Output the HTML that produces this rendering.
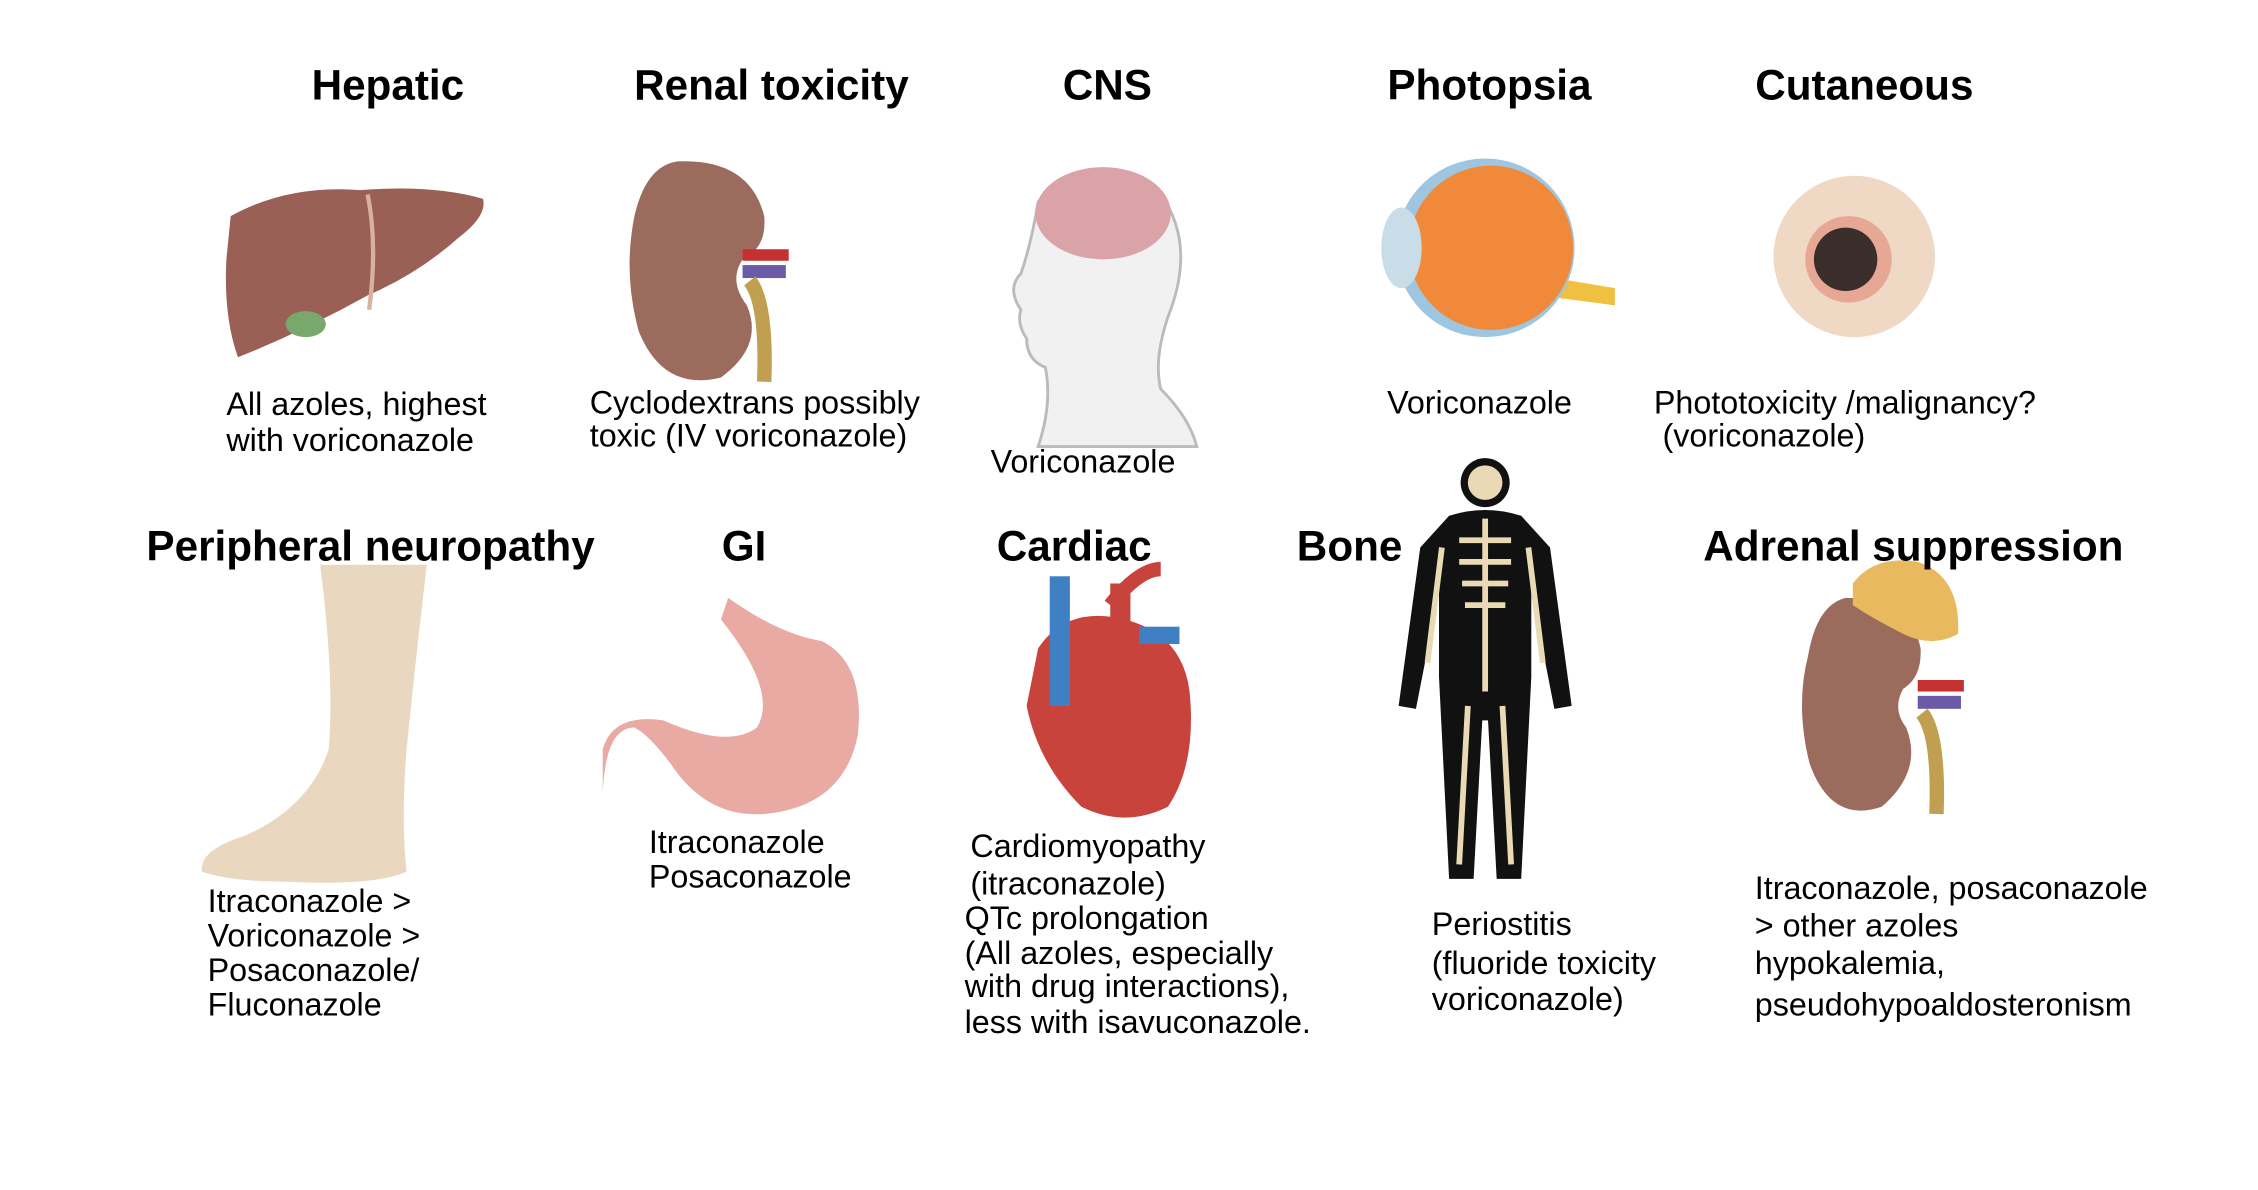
<!DOCTYPE html>
<html><head><meta charset="utf-8"><style>
html,body{margin:0;padding:0;background:#fff;}
svg{display:block}
.t{font-family:"Liberation Sans",Arial,sans-serif;font-weight:bold;font-size:29.3px;fill:#000;text-anchor:middle}
.b{font-family:"Liberation Sans",Arial,sans-serif;font-size:22.4px;fill:#000}
</style></head><body>
<svg width="2258" height="1190" viewBox="0 0 1566 826" preserveAspectRatio="none" xmlns="http://www.w3.org/2000/svg">
<rect width="1566" height="826" fill="#fff"/>
<text class="t" x="269" y="69">Hepatic</text>
<text class="t" x="535" y="69">Renal toxicity</text>
<text class="t" x="768" y="69">CNS</text>
<text class="t" x="1033" y="69">Photopsia</text>
<text class="t" x="1293" y="69">Cutaneous</text>

<path d="M160 150 Q200 128 250 132 Q300 128 335 138 Q338 150 318 165 Q290 190 255 205 Q210 230 165 248 Q155 220 157 180 Z" fill="#9a5f55"/>
<path d="M255 135 Q262 170 256 215" stroke="#d8b2a0" stroke-width="3" fill="none"/>
<ellipse cx="212" cy="225" rx="14" ry="9" fill="#79a86c"/>
<path d="M470 112 Q520 110 530 150 Q532 172 515 180 Q505 195 518 212 Q530 240 500 262 Q460 272 443 230 Q432 190 440 150 Q448 115 470 112 Z" fill="#9b6b5e"/>
<rect x="515" y="173" width="32" height="8" fill="#c53030"/>
<rect x="515" y="184" width="30" height="9" fill="#6a5aa8"/>
<path d="M520 195 Q532 210 530 265" stroke="#c0a050" stroke-width="10" fill="none"/>
<path d="M720 140 Q760 110 805 135 Q830 170 810 220 Q800 250 805 270 Q825 290 830 310 L720 310 Q730 280 725 255 Q712 250 712 235 Q705 225 708 215 Q698 200 708 190 Q715 170 720 140 Z" fill="#f1f1f1" stroke="#bbb" stroke-width="2"/>
<ellipse cx="765" cy="148" rx="47" ry="32" fill="#d9a3a8"/>
<path d="M1060 190 L1120 200 L1120 212 L1060 204 Z" fill="#f0c040"/>
<circle cx="1030" cy="172" r="62" fill="#9ec6e0"/>
<circle cx="1034" cy="172" r="57" fill="#f08a3a"/>
<ellipse cx="972" cy="172" rx="14" ry="28" fill="#c8dde8"/>
<circle cx="1286" cy="178" r="56" fill="#efd9c4"/>
<circle cx="1282" cy="180" r="30" fill="#e6a795"/>
<circle cx="1280" cy="180" r="22" fill="#3a2e2a"/>

<text class="b" x="157" y="288">All azoles, highest</text>
<text class="b" x="157" y="313">with voriconazole</text>
<text class="b" x="409" y="287">Cyclodextrans possibly</text>
<text class="b" x="409" y="310">toxic (IV voriconazole)</text>
<text class="b" x="687" y="328">Voriconazole</text>
<text class="b" x="962" y="287">Voriconazole</text>
<text class="b" x="1147" y="287">Phototoxicity /malignancy?</text>
<text class="b" x="1153" y="310">(voriconazole)</text>

<path d="M222 392 L296 392 Q288 460 282 520 Q278 570 282 605 Q260 615 200 612 Q160 612 140 605 Q138 590 170 580 Q215 560 228 520 Q232 470 222 392 Z" fill="#ead7bf"/>
<path d="M505 415 Q540 440 570 445 Q600 460 595 510 Q585 560 530 565 Q490 568 465 530 Q450 510 440 505 Q420 505 418 550 L418 520 Q425 495 460 500 Q505 520 525 505 Q540 480 500 430 Z" fill="#e8aaa3"/>
<path d="M720 450 Q740 420 780 430 Q820 440 825 480 Q830 530 810 560 Q780 575 750 560 Q720 530 712 490 Z" fill="#c9433d"/>
<rect x="728" y="400" width="14" height="90" fill="#3f7fc4"/>
<path d="M770 420 Q790 395 805 395" stroke="#c9433d" stroke-width="10" fill="none"/>
<rect x="790" y="435" width="28" height="12" fill="#3f7fc4"/>
<rect x="770" y="405" width="14" height="35" fill="#c9433d"/>
<g fill="#111">
<circle cx="1030" cy="335" r="17"/>
<path d="M1005 358 Q1030 350 1055 358 L1075 380 L1090 490 L1078 492 L1062 410 L1062 470 L1055 610 L1038 610 L1032 500 L1028 500 L1022 610 L1005 610 L998 470 L998 410 L982 492 L970 490 L985 380 Z"/>
</g>
<g stroke="#ead9b5" stroke-width="4" fill="none">
<path d="M1030 360 L1030 480"/><path d="M1012 375 L1048 375 M1012 390 L1048 390 M1014 405 L1046 405 M1016 420 L1044 420"/>
<path d="M1018 490 L1012 600 M1042 490 L1048 600"/>
<path d="M1000 380 L990 460 M1060 380 L1070 460"/>
</g>
<circle cx="1030" cy="335" r="12" fill="#ead9b5"/>
<path d="M1280 415 Q1325 415 1332 450 Q1333 470 1320 478 Q1312 492 1322 505 Q1334 535 1305 560 Q1270 572 1255 530 Q1245 490 1254 455 Q1260 420 1280 415 Z" fill="#9b6b5e"/>
<path d="M1285 405 Q1300 385 1330 390 Q1360 400 1358 440 Q1340 450 1320 440 Q1300 430 1285 420 Z" fill="#e9b95f"/>
<rect x="1330" y="472" width="32" height="8" fill="#c53030"/>
<rect x="1330" y="483" width="30" height="9" fill="#6a5aa8"/>
<path d="M1333 495 Q1345 510 1343 565" stroke="#c0a050" stroke-width="10" fill="none"/>

<text class="t" x="257" y="389">Peripheral neuropathy</text>
<text class="t" x="516" y="389">GI</text>
<text class="t" x="745" y="389">Cardiac</text>
<text class="t" x="936" y="389">Bone</text>
<text class="t" x="1327" y="389">Adrenal suppression</text>

<text class="b" x="144" y="633">Itraconazole &gt;</text>
<text class="b" x="144" y="657">Voriconazole &gt;</text>
<text class="b" x="144" y="681">Posaconazole/</text>
<text class="b" x="144" y="705">Fluconazole</text>
<text class="b" x="450" y="592">Itraconazole</text>
<text class="b" x="450" y="616">Posaconazole</text>
<text class="b" x="673" y="595">Cardiomyopathy</text>
<text class="b" x="673" y="621">(itraconazole)</text>
<text class="b" x="669" y="645">QTc prolongation</text>
<text class="b" x="669" y="669">(All azoles, especially</text>
<text class="b" x="669" y="692">with drug interactions),</text>
<text class="b" x="669" y="717">less with isavuconazole.</text>
<text class="b" x="993" y="649">Periostitis</text>
<text class="b" x="993" y="676">(fluoride toxicity</text>
<text class="b" x="993" y="701">voriconazole)</text>
<text class="b" x="1217" y="624">Itraconazole, posaconazole</text>
<text class="b" x="1217" y="650">&gt; other azoles</text>
<text class="b" x="1217" y="676">hypokalemia,</text>
<text class="b" x="1217" y="705">pseudohypoaldosteronism</text>
</svg>
</body></html>
